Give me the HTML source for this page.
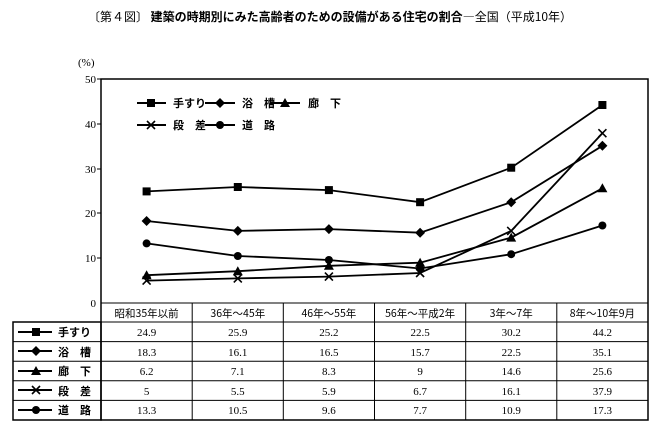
<!DOCTYPE html>
<html><head><meta charset="utf-8"><style>
html,body{margin:0;padding:0;background:#fff;}
svg{display:block;font-family:"Liberation Serif","Noto Serif CJK SC","Noto Sans CJK JP",serif;}
</style></head><body>
<svg width="661" height="433" viewBox="0 0 661 433" xmlns="http://www.w3.org/2000/svg">
<defs>
<g id="sq"><rect x="-4" y="-4" width="8" height="8" fill="#000"/></g>
<g id="di"><polygon points="0,-5 5,0 0,5 -5,0" fill="#000"/></g>
<g id="tr"><polygon points="0,-5 5,4 -5,4" fill="#000"/></g>
<g id="xx"><path d="M-4,-4L4,4M4,-4L-4,4" stroke="#000" stroke-width="1.6"/></g>
<g id="ci"><circle r="4" fill="#000"/></g>
</defs>
<text x="330" y="21" font-size="12" text-anchor="middle" font-family="Noto Sans CJK JP, sans-serif">〔第４図〕 <tspan font-weight="bold">建築の時期別にみた高齢者のための設備がある住宅の割合</tspan>―全国（平成10年）</text>
<text x="78" y="66" font-size="11">(%)</text>
<g font-size="11" text-anchor="end">
<text x="96" y="83">50</text><text x="96" y="128">40</text><text x="96" y="173">30</text>
<text x="96" y="217">20</text><text x="96" y="262">10</text><text x="96" y="307">0</text>
</g>
<g stroke="#000" stroke-width="1">
<line x1="97" y1="79" x2="101" y2="79"/><line x1="97" y1="124" x2="101" y2="124"/>
<line x1="97" y1="169" x2="101" y2="169"/><line x1="97" y1="213" x2="101" y2="213"/>
<line x1="97" y1="258" x2="101" y2="258"/>
</g>
<rect x="101" y="79" width="547" height="341" fill="none" stroke="#000" stroke-width="1.5"/>
<rect x="13" y="322" width="88" height="98" fill="none" stroke="#000" stroke-width="1.5"/>
<g stroke="#000" stroke-width="1">
<line x1="101" y1="303" x2="648" y2="303"/>
<line x1="13" y1="322" x2="648" y2="322"/>
<line x1="13" y1="341.6" x2="648" y2="341.6"/>
<line x1="13" y1="361.2" x2="648" y2="361.2"/>
<line x1="13" y1="380.8" x2="648" y2="380.8"/>
<line x1="13" y1="400.4" x2="648" y2="400.4"/>
<line x1="192.2" y1="303" x2="192.2" y2="420"/><line x1="283.3" y1="303" x2="283.3" y2="420"/>
<line x1="374.5" y1="303" x2="374.5" y2="420"/><line x1="465.7" y1="303" x2="465.7" y2="420"/>
<line x1="556.8" y1="303" x2="556.8" y2="420"/>
</g>
<g font-size="10.5" text-anchor="middle" font-family="Noto Sans CJK JP, sans-serif">
<text x="146.6" y="317">昭和35年以前</text><text x="237.8" y="317">36年～45年</text>
<text x="328.9" y="317">46年～55年</text><text x="420.1" y="317">56年～平成2年</text>
<text x="511.2" y="317">3年～7年</text><text x="602.4" y="317">8年～10年9月</text>
</g>
<g font-size="11" text-anchor="middle">
<text x="146.6" y="336">24.9</text><text x="237.8" y="336">25.9</text><text x="328.9" y="336">25.2</text><text x="420.1" y="336">22.5</text><text x="511.2" y="336">30.2</text><text x="602.4" y="336">44.2</text>
<text x="146.6" y="356">18.3</text><text x="237.8" y="356">16.1</text><text x="328.9" y="356">16.5</text><text x="420.1" y="356">15.7</text><text x="511.2" y="356">22.5</text><text x="602.4" y="356">35.1</text>
<text x="146.6" y="375">6.2</text><text x="237.8" y="375">7.1</text><text x="328.9" y="375">8.3</text><text x="420.1" y="375">9</text><text x="511.2" y="375">14.6</text><text x="602.4" y="375">25.6</text>
<text x="146.6" y="395">5</text><text x="237.8" y="395">5.5</text><text x="328.9" y="395">5.9</text><text x="420.1" y="395">6.7</text><text x="511.2" y="395">16.1</text><text x="602.4" y="395">37.9</text>
<text x="146.6" y="414">13.3</text><text x="237.8" y="414">10.5</text><text x="328.9" y="414">9.6</text><text x="420.1" y="414">7.7</text><text x="511.2" y="414">10.9</text><text x="602.4" y="414">17.3</text>
</g>
<!-- table legend -->
<g stroke="#000" stroke-width="2">
<line x1="18" y1="332" x2="52" y2="332"/><line x1="18" y1="351" x2="52" y2="351"/>
<line x1="18" y1="371" x2="52" y2="371"/><line x1="18" y1="390" x2="52" y2="390"/>
<line x1="18" y1="410" x2="52" y2="410"/>
</g>
<use href="#sq" x="36" y="332"/><use href="#di" x="36" y="351"/><use href="#tr" x="36" y="371"/>
<use href="#xx" x="36" y="390"/><use href="#ci" x="36" y="410"/>
<g font-size="11" font-family="Noto Sans CJK JP, sans-serif" font-weight="bold">
<text x="58" y="336">手すり</text><text x="58" y="356">浴　槽</text><text x="58" y="375">廊　下</text>
<text x="58" y="395">段　差</text><text x="58" y="414">道　路</text>
</g>
<!-- series -->
<g fill="none" stroke="#000" stroke-width="1.8">
<polyline points="146.6,191.4 237.8,187 328.9,190.1 420.1,202.2 511.2,167.7 602.4,105"/>
<polyline points="146.6,221 237.8,230.9 328.9,229.1 420.1,232.7 511.2,202.2 602.4,145.8"/>
<polyline points="146.6,275.2 237.8,271.2 328.9,265.8 420.1,262.7 511.2,237.6 602.4,188.3"/>
<polyline points="146.6,280.6 237.8,278.4 328.9,276.6 420.1,273 511.2,230.9 602.4,133.2"/>
<polyline points="146.6,243.4 237.8,256 328.9,260 420.1,268.5 511.2,254.2 602.4,225.5"/>
</g>
<g>
<use href="#sq" x="146.6" y="191.4"/><use href="#sq" x="237.8" y="187"/><use href="#sq" x="328.9" y="190.1"/><use href="#sq" x="420.1" y="202.2"/><use href="#sq" x="511.2" y="167.7"/><use href="#sq" x="602.4" y="105"/>
<use href="#di" x="146.6" y="221"/><use href="#di" x="237.8" y="230.9"/><use href="#di" x="328.9" y="229.1"/><use href="#di" x="420.1" y="232.7"/><use href="#di" x="511.2" y="202.2"/><use href="#di" x="602.4" y="145.8"/>
<use href="#tr" x="146.6" y="275.2"/><use href="#tr" x="237.8" y="271.2"/><use href="#tr" x="328.9" y="265.8"/><use href="#tr" x="420.1" y="262.7"/><use href="#tr" x="511.2" y="237.6"/><use href="#tr" x="602.4" y="188.3"/>
<use href="#xx" x="146.6" y="280.6"/><use href="#xx" x="237.8" y="278.4"/><use href="#xx" x="328.9" y="276.6"/><use href="#xx" x="420.1" y="273"/><use href="#xx" x="511.2" y="230.9"/><use href="#xx" x="602.4" y="133.2"/>
<use href="#ci" x="146.6" y="243.4"/><use href="#ci" x="237.8" y="256"/><use href="#ci" x="328.9" y="260"/><use href="#ci" x="420.1" y="268.5"/><use href="#ci" x="511.2" y="254.2"/><use href="#ci" x="602.4" y="225.5"/>
</g>
<!-- legend -->
<g stroke="#000" stroke-width="2">
<line x1="137" y1="103" x2="166" y2="103"/><line x1="205" y1="103" x2="235" y2="103"/><line x1="270" y1="103" x2="300" y2="103"/>
<line x1="137" y1="125" x2="166" y2="125"/><line x1="205" y1="125" x2="235" y2="125"/>
</g>
<use href="#sq" x="151" y="103"/><use href="#di" x="220" y="103"/><use href="#tr" x="285" y="103"/>
<use href="#xx" x="151" y="125"/><use href="#ci" x="220" y="125"/>
<g font-size="11" font-family="Noto Sans CJK JP, sans-serif" font-weight="bold">
<text x="173" y="107">手すり</text><text x="242" y="107">浴　槽</text><text x="308" y="107">廊　下</text>
<text x="173" y="129">段　差</text><text x="242" y="129">道　路</text>
</g>
</svg>
</body></html>
